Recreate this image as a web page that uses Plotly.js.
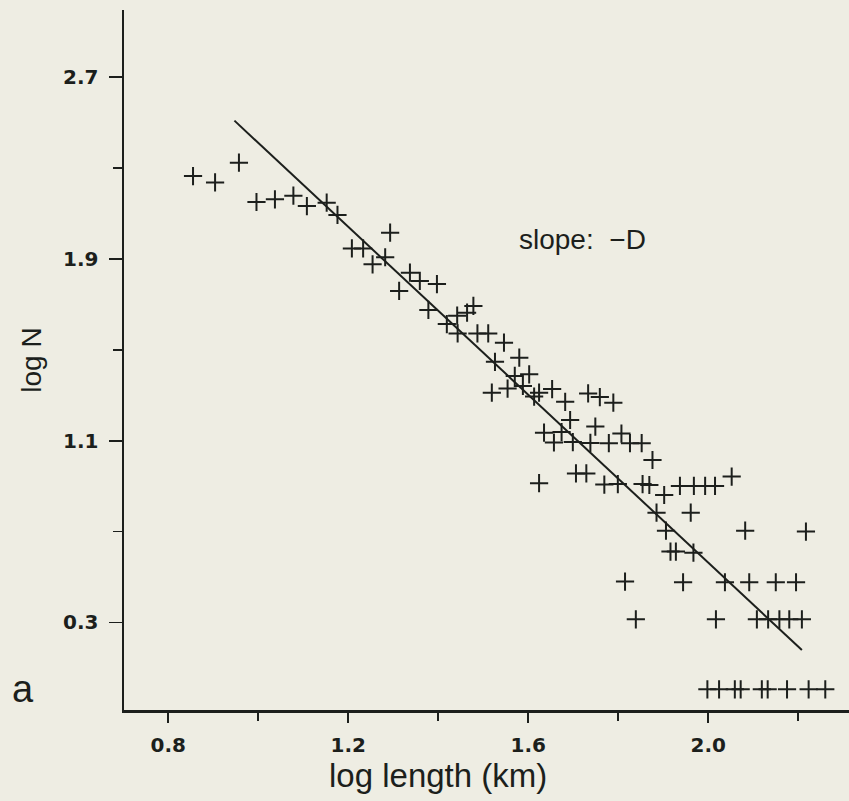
<!DOCTYPE html>
<html>
<head>
<meta charset="utf-8">
<script src="https://cdn.plot.ly/plotly-3.0.1.min.js"></script>
<style>
  html, body { margin: 0; padding: 0; background: #eeede3; }
  #chart { width: 849px; height: 801px; }
</style>
</head>
<body>
<div id="chart"></div>
<script>
// log length (km) of each measured point
const logLength = [
  0.855, 0.904, 0.957, 0.996, 1.037, 1.078, 1.108, 1.152, 1.176, 1.208,
  1.233, 1.293, 1.282, 1.254, 1.313, 1.337, 1.359, 1.397, 1.378, 1.442,
  1.464, 1.478, 1.419, 1.443, 1.487, 1.511, 1.546, 1.526, 1.580, 1.570,
  1.602, 1.519, 1.554, 1.588, 1.613, 1.624, 1.653, 1.682, 1.733, 1.759,
  1.789, 1.693, 1.749, 1.635, 1.674, 1.657, 1.699, 1.738, 1.779, 1.807,
  1.826, 1.852, 1.876, 1.624, 1.706, 1.729, 1.769, 1.799, 1.854, 1.869,
  1.902, 1.937, 1.968, 1.993, 2.015, 2.052, 1.885, 1.961, 1.906, 2.082,
  2.217, 1.916, 1.928, 1.967, 1.815, 1.944, 2.037, 2.091, 2.150, 2.195,
  1.839, 2.017, 2.108, 2.133, 2.158, 2.180, 2.208,
  1.998, 2.024, 2.059, 2.072, 2.119, 2.132, 2.175, 2.223, 2.260
];
// log N of each measured point
const logN = [
  2.264, 2.236, 2.323, 2.150, 2.162, 2.178, 2.132, 2.147, 2.093, 1.946,
  1.946, 2.015, 1.907, 1.876, 1.759, 1.839, 1.803, 1.789, 1.675, 1.650,
  1.663, 1.693, 1.613, 1.572, 1.572, 1.572, 1.531, 1.447, 1.465, 1.385,
  1.392, 1.311, 1.329, 1.341, 1.294, 1.311, 1.327, 1.271, 1.308, 1.292,
  1.267, 1.191, 1.162, 1.135, 1.138, 1.092, 1.094, 1.090, 1.089, 1.131,
  1.089, 1.089, 1.015, 0.913, 0.956, 0.956, 0.907, 0.909, 0.909, 0.905,
  0.861, 0.901, 0.901, 0.901, 0.901, 0.942, 0.783, 0.783, 0.704, 0.704,
  0.700, 0.612, 0.612, 0.607, 0.480, 0.477, 0.477, 0.477, 0.477, 0.477,
  0.314, 0.314, 0.314, 0.314, 0.314, 0.314, 0.314,
  0.006, 0.006, 0.006, 0.006, 0.006, 0.006, 0.006, 0.006, 0.006
];
// fitted line (slope -D) end points
const fitX = [0.947, 2.208];
const fitY = [2.508, 0.179];

// axis ticks
const xTickVals = [0.8, 1.2, 1.6, 2.0];
const xTickText = ['0.8', '1.2', '1.6', '2.0'];
const xMinorVals = [1.0, 1.4, 1.8, 2.2];
const yTickVals = [0.3, 1.1, 1.9, 2.7];
const yTickText = ['0.3', '1.1', '1.9', '2.7'];
const yMinorVals = [0.7, 1.5, 2.3];

const ink = '#1c1f1c';

const traces = [
  {
    x: fitX, y: fitY, mode: 'lines', type: 'scatter',
    line: { color: ink, width: 2 },
    hoverinfo: 'skip', showlegend: false
  },
  {
    x: logLength, y: logN, mode: 'markers', type: 'scatter',
    marker: { symbol: 'cross-thin', size: 13, color: ink,
              line: { color: ink, width: 2 } },
    showlegend: false
  }
];

const tickFont = { family: 'DejaVu Sans', size: 20, color: ink, weight: 'bold' };

const layout = {
  width: 849, height: 801,
  paper_bgcolor: '#eeede3', plot_bgcolor: '#eeede3',
  margin: { l: 124, r: 0, t: 10, b: 91 },
  showlegend: false,
  xaxis: {
    range: [0.7016, 2.3127],
    showgrid: false, zeroline: false,
    showline: true, linecolor: ink, linewidth: 2.5,
    tickmode: 'array', tickvals: xTickVals, ticktext: xTickText,
    ticks: 'outside', ticklen: 10, tickwidth: 1.8, tickcolor: ink,
    ticklabelstandoff: 5,
    minor: { tickmode: 'array', tickvals: xMinorVals, ticks: 'outside',
             ticklen: 8, tickwidth: 1.8, tickcolor: ink, showgrid: false },
    tickfont: tickFont
  },
  yaxis: {
    range: [-0.085, 2.9948],
    showgrid: false, zeroline: false,
    showline: true, linecolor: ink, linewidth: 2.5,
    tickmode: 'array', tickvals: yTickVals, ticktext: yTickText,
    ticks: 'outside', ticklen: 13, tickwidth: 1.8, tickcolor: ink,
    ticklabelstandoff: 6,
    minor: { tickmode: 'array', tickvals: yMinorVals, ticks: 'outside',
             ticklen: 9, tickwidth: 1.8, tickcolor: ink, showgrid: false },
    tickfont: tickFont,
    title: { text: 'log N', font: { family: 'Liberation Sans', size: 28, color: ink },
             standoff: 14 }
  },
  annotations: [
    {
      text: 'log length (km)', x: 0.28, y: -0.093, xref: 'paper', yref: 'paper',
      xanchor: 'left', yanchor: 'middle', showarrow: false,
      font: { family: 'Liberation Sans', size: 33, color: ink }
    },
    {
      text: 'slope:  −D', x: 1.575, y: 1.985, xref: 'x', yref: 'y',
      xanchor: 'left', yanchor: 'middle', showarrow: false,
      font: { family: 'Liberation Sans', size: 28, color: ink }
    },
    {
      text: 'a', x: -0.139, y: 0.03, xref: 'paper', yref: 'paper',
      xanchor: 'center', yanchor: 'middle', showarrow: false,
      font: { family: 'Liberation Sans', size: 38, color: ink }
    }
  ]
};

Plotly.newPlot('chart', traces, layout, { displayModeBar: false, staticPlot: true });
</script>
</body>
</html>
